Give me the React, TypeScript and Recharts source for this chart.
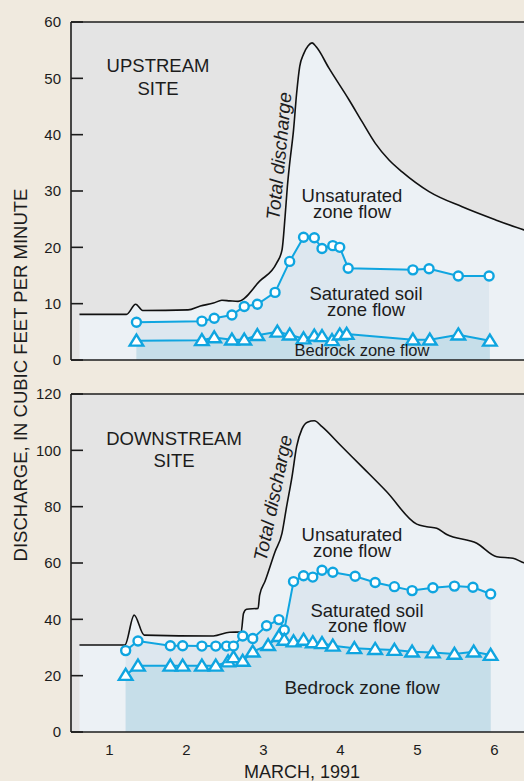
import React from 'react';
import { ComposedChart, Area, XAxis, YAxis, CartesianGrid } from 'recharts';

// ---------- data (day of March 1991 measured from Mar 1 00:00, discharge ft3/min) ----------
const DAY_TICKS = [1, 2, 3, 4, 5];
const DAY_LABEL_POS = [0.5, 1.5, 2.5, 3.5, 4.5, 5.5];
const UP_Y_TICKS = [0, 10, 20, 30, 40, 50, 60];
const DOWN_Y_TICKS = [0, 20, 40, 60, 80, 100, 120];
const RIGHT_UP_TICKS = [10, 20, 30, 40, 50];
const RIGHT_DOWN_TICKS = [20, 40, 60, 80, 100];

const upstreamTotal: [number, number][] = [
  [0.11, 8.1], [0.72, 8.1], [0.84, 9.9], [0.93, 8.8], [1.52, 8.9], [1.68, 9.6], [1.85, 10.1],
  [1.96, 10.6], [2.06, 10.5], [2.17, 10.4], [2.45, 14.0], [2.67, 17.2], [2.74, 19.5], [2.78, 25.4],
  [2.81, 30.8], [2.84, 34.9], [2.89, 40.8], [2.93, 47.3], [2.97, 52.1], [3.02, 54.3], [3.08, 55.8],
  [3.13, 56.3], [3.19, 55.5], [3.35, 51.8], [3.61, 46.2], [3.78, 42.3], [3.95, 38.5], [4.13, 35.5],
  [4.30, 33.4], [4.65, 29.9], [5.08, 27.2], [5.51, 24.9], [5.88, 23.1], [6.0, 22.6],
];
const upstreamSaturated: [number, number][] = [
  [0.85, 6.7], [1.70, 6.9], [1.86, 7.4], [2.09, 8.0], [2.25, 9.5], [2.42, 9.9], [2.65, 12.0],
  [2.84, 17.5], [3.02, 21.8], [3.16, 21.7], [3.26, 19.8], [3.40, 20.3], [3.49, 20.0], [3.60, 16.3],
  [4.44, 16.0], [4.65, 16.2], [5.03, 14.9], [5.43, 14.9],
];
const upstreamBedrock: [number, number][] = [
  [0.85, 3.4], [1.70, 3.5], [1.86, 4.0], [2.09, 3.6], [2.25, 3.6], [2.42, 4.4], [2.68, 5.0],
  [2.84, 4.5], [3.02, 3.8], [3.16, 4.3], [3.26, 4.2], [3.39, 3.5], [3.49, 4.5], [3.58, 4.6],
  [4.44, 3.6], [4.66, 3.6], [5.03, 4.5], [5.44, 3.4],
];

const downstreamTotal: [number, number][] = [
  [0.11, 30.9], [0.70, 30.9], [0.82, 41.5], [0.95, 34.4], [1.85, 34.1], [2.06, 35.4], [2.21, 35.5],
  [2.24, 42.1], [2.28, 43.6], [2.43, 43.9], [2.45, 48.6], [2.52, 53.5], [2.65, 64.0], [2.74, 70.5],
  [2.80, 80.0], [2.87, 90.6], [2.93, 101.3], [3.0, 107.6], [3.07, 110.0], [3.16, 110.5], [3.26, 108.4],
  [3.50, 101.8], [3.80, 93.6], [4.10, 85.3], [4.49, 73.8], [4.62, 72.9], [4.75, 72.3], [4.88, 70.1],
  [5.27, 67.0], [5.53, 62.2], [5.74, 61.7], [5.88, 60.1], [6.0, 59.5],
];
const downstreamSaturated: [number, number][] = [
  [0.71, 28.9], [0.87, 32.3], [1.29, 30.6], [1.45, 30.6], [1.70, 30.5], [1.88, 30.5], [2.02, 30.5],
  [2.11, 30.5], [2.23, 34.1], [2.36, 33.2], [2.54, 37.7], [2.70, 39.9], [2.77, 36.2], [2.89, 53.4],
  [3.02, 55.5], [3.14, 55.0], [3.26, 57.4], [3.40, 56.7], [3.69, 55.3], [3.95, 53.1], [4.20, 51.6],
  [4.43, 50.2], [4.70, 51.2], [4.98, 51.8], [5.22, 51.4], [5.45, 49.0],
];
const downstreamBedrock: [number, number][] = [
  [0.71, 20.2], [0.87, 23.5], [1.29, 23.5], [1.45, 23.5], [1.70, 23.5], [1.88, 23.5], [2.04, 25.0],
  [2.11, 26.5], [2.23, 25.2], [2.36, 28.5], [2.56, 30.8], [2.70, 34.0], [2.77, 32.7], [2.89, 32.1],
  [3.02, 32.7], [3.14, 31.8], [3.26, 31.5], [3.40, 30.6], [3.68, 29.7], [3.95, 29.4], [4.20, 29.1],
  [4.43, 28.5], [4.70, 28.2], [4.98, 27.7], [5.23, 28.5], [5.45, 27.3],
];

// ---------- styles ----------
const PAGE_BG = '#f0eadf';
const PLOT_BG = '#e4e4e4';
const UNSAT = '#ecf1f5';
const SAT = '#dde7ef';
const BED = '#c6dee9';
const CYAN = '#0fa5e0';
const INK = '#1c1c1c';
const FONT = '"Liberation Sans", Arial, sans-serif';

const toPts = (arr: [number, number][]) => arr.map(([day, q]) => ({ day, q }));

const CircleDot = (props: any) => {
  const { cx, cy, index } = props;
  if (cx == null || cy == null) return <g key={`c${index}`} />;
  return <circle key={`c${index}`} cx={cx} cy={cy} r={4.5} fill="#fff" stroke={CYAN} strokeWidth={2.4} />;
};
const TriDot = (props: any) => {
  const { cx, cy, index } = props;
  if (cx == null || cy == null) return <g key={`t${index}`} />;
  const d = `M${cx},${cy - 6.2} L${cx + 6.8},${cy + 4.8} L${cx - 6.8},${cy + 4.8} Z`;
  return <path key={`t${index}`} d={d} fill="#fff" stroke={CYAN} strokeWidth={2.4} strokeLinejoin="miter" />;
};

type PanelProps = {
  total: [number, number][];
  sat: [number, number][];
  bed: [number, number][];
  yMax: number;
  yTicks: number[];
  rightTicks: number[];
  height: number;
  marginBottom: number;
  showLabels: boolean;
};

function Panel({ total, sat, bed, yMax, yTicks, rightTicks, height, marginBottom, showLabels }: PanelProps) {
  return (
    <ComposedChart width={560} height={height} margin={{ top: 21, right: 26, bottom: marginBottom, left: 70 }}>
      <CartesianGrid horizontal={false} vertical={false} fill={PLOT_BG} stroke="none" />
      <XAxis
        dataKey="day" type="number" domain={[0, 6]} allowDataOverflow ticks={DAY_TICKS} interval={0}
        height={1} tickSize={-12} tick={false} stroke={INK} strokeWidth={1.6}
      />
      <XAxis
        xAxisId="top" orientation="top" dataKey="day" type="number" domain={[0, 6]} allowDataOverflow
        ticks={DAY_TICKS} interval={0} height={1} tickSize={-12} tick={false} stroke={INK} strokeWidth={1.6}
      />
      {showLabels && (
        <XAxis
          xAxisId="lbl" dataKey="day" type="number" domain={[0, 6]} allowDataOverflow ticks={DAY_LABEL_POS}
          interval={0} height={1} axisLine={false} tickLine={false} tickSize={0} tickMargin={11}
          tickFormatter={(v: number) => String(v + 0.5)} tick={{ fontSize: 15, fill: INK }}
        />
      )}
      <YAxis
        type="number" domain={[0, yMax]} allowDataOverflow ticks={yTicks} interval={0} width={1}
        tickSize={-12} tickMargin={22} stroke={INK} strokeWidth={1.6} tick={{ fontSize: 15, fill: INK }}
      />
      <YAxis
        yAxisId="right" orientation="right" type="number" domain={[0, yMax]} allowDataOverflow ticks={rightTicks}
        interval={0} width={1} tickSize={-12} tick={false} stroke={INK} strokeWidth={1.6}
      />
      <Area
        data={toPts(total)} dataKey="q" type="monotoneX" stroke="#111" strokeWidth={1.6}
        fill={UNSAT} fillOpacity={1} dot={false} activeDot={false} isAnimationActive={false}
      />
      <Area
        data={toPts(sat)} dataKey="q" type="linear" stroke={CYAN} strokeWidth={2}
        fill={SAT} fillOpacity={1} dot={CircleDot} activeDot={false} isAnimationActive={false}
      />
      <Area
        data={toPts(bed)} dataKey="q" type="linear" stroke={CYAN} strokeWidth={2}
        fill={BED} fillOpacity={1} dot={TriDot} activeDot={false} isAnimationActive={false}
      />
    </ComposedChart>
  );
}

export default function App() {
  const t = { fill: INK, fontFamily: FONT } as const;
  return (
    <div
      style={{
        position: 'fixed', left: 0, top: 0, width: 524, height: 781, overflow: 'hidden',
        background: PAGE_BG, fontFamily: FONT,
      }}
    >
      <div style={{ position: 'absolute', left: 0, top: 0 }}>
        <Panel
          total={upstreamTotal} sat={upstreamSaturated} bed={upstreamBedrock} yMax={60}
          yTicks={UP_Y_TICKS} rightTicks={RIGHT_UP_TICKS} height={380} marginBottom={19} showLabels={false}
        />
      </div>
      <div style={{ position: 'absolute', left: 0, top: 372 }}>
        <Panel
          total={downstreamTotal} sat={downstreamSaturated} bed={downstreamBedrock} yMax={120}
          yTicks={DOWN_Y_TICKS} rightTicks={RIGHT_DOWN_TICKS} height={409} marginBottom={47} showLabels={true}
        />
      </div>
      <svg
        width={524} height={781}
        style={{ position: 'absolute', left: 0, top: 0, pointerEvents: 'none' }}
      >
        {/* axis titles */}
        <text x={20} y={375} transform="rotate(-90 20 375)" textAnchor="middle" dominantBaseline="central" fontSize={18.5} {...t}>
          DISCHARGE, IN CUBIC FEET PER MINUTE
        </text>
        <text x={302} y={778} textAnchor="middle" fontSize={18} {...t}>MARCH, 1991</text>

        {/* upstream annotations */}
        <text x={158} y={72} textAnchor="middle" fontSize={18.5} {...t}>UPSTREAM</text>
        <text x={158} y={95} textAnchor="middle" fontSize={18.5} {...t}>SITE</text>
        <text x={279} y={156} transform="rotate(-84.5 279 156)" textAnchor="middle" dominantBaseline="central" fontSize={19} fontStyle="italic" {...t}>
          Total discharge
        </text>
        <text x={352} y={202} textAnchor="middle" fontSize={18.5} {...t}>Unsaturated</text>
        <text x={352} y={218} textAnchor="middle" fontSize={18.5} {...t}>zone flow</text>
        <text x={366} y={300} textAnchor="middle" fontSize={18.5} {...t}>Saturated soil</text>
        <text x={366} y={316} textAnchor="middle" fontSize={18.5} {...t}>zone flow</text>
        <text x={362} y={356} textAnchor="middle" fontSize={16.5} {...t}>Bedrock zone flow</text>

        {/* downstream annotations */}
        <text x={174} y={445} textAnchor="middle" fontSize={18.5} {...t}>DOWNSTREAM</text>
        <text x={174} y={467} textAnchor="middle" fontSize={18.5} {...t}>SITE</text>
        <text x={273} y={498} transform="rotate(-78.3 273 498)" textAnchor="middle" dominantBaseline="central" fontSize={19} fontStyle="italic" {...t}>
          Total discharge
        </text>
        <text x={352} y={541} textAnchor="middle" fontSize={18.5} {...t}>Unsaturated</text>
        <text x={352} y={557} textAnchor="middle" fontSize={18.5} {...t}>zone flow</text>
        <text x={367} y={617} textAnchor="middle" fontSize={18.5} {...t}>Saturated soil</text>
        <text x={367} y={632} textAnchor="middle" fontSize={18.5} {...t}>zone flow</text>
        <text x={362} y={694} textAnchor="middle" fontSize={19} {...t}>Bedrock zone flow</text>
      </svg>
    </div>
  );
}
